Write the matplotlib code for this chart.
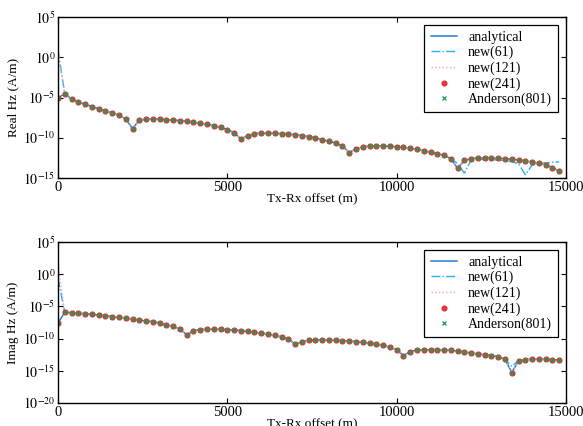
import numpy as np
import matplotlib
matplotlib.use("Agg")
import matplotlib.pyplot as plt
from matplotlib.ticker import FixedLocator, FuncFormatter

plt.rc('font', family='Liberation Serif', size=9.5)
plt.rc('xtick', labelsize=10.5)
plt.rc('ytick', labelsize=10)
plt.rc('legend', fontsize=10)
plt.rc('mathtext', fontset='stix')

# Tx-Rx offsets (m), one sample every 200 m
offsets = np.arange(0, 15000, 200)

# Real Hz, log10 of |Hz|
real_analytical = [
    -5.02, -4.56, -5.18, -5.56, -5.85, -6.14, -6.38, -6.67, -6.92, -7.21,
    -7.67, -8.87, -7.83, -7.67, -7.67, -7.67, -7.75, -7.79, -7.88, -7.96,
    -8.08, -8.21, -8.33, -8.50, -8.70, -9.00, -9.37, -10.15, -9.74, -9.49,
    -9.45, -9.45, -9.45, -9.49, -9.57, -9.61, -9.74, -9.86, -10.03, -10.24,
    -10.44, -10.65, -11.02, -11.85, -11.35, -11.15, -11.02, -10.98, -11.02, -11.06,
    -11.12, -11.19, -11.31, -11.44, -11.60, -11.81, -11.97, -12.18, -12.60, -13.80,
    -12.80, -12.60, -12.51, -12.51, -12.51, -12.55, -12.60, -12.68, -12.76, -12.88,
    -13.01, -13.17, -13.34, -13.71, -14.13,
]
real_new61 = [
    0.90, -4.56, -5.18, -5.56, -5.85, -6.14, -6.38, -6.67, -6.92, -7.21,
    -7.67, -8.87, -7.83, -7.67, -7.67, -7.67, -7.75, -7.79, -7.88, -7.96,
    -8.08, -8.21, -8.33, -8.50, -8.70, -9.00, -9.37, -10.15, -9.74, -9.49,
    -9.45, -9.45, -9.45, -9.49, -9.57, -9.61, -9.74, -9.86, -10.03, -10.24,
    -10.44, -10.65, -11.02, -11.85, -11.35, -11.15, -11.02, -10.98, -11.02, -11.06,
    -11.12, -11.19, -11.31, -11.44, -11.60, -11.81, -11.97, -12.18, -12.60, -13.20,
    -14.40, -12.75, -12.70, -12.70, -12.72, -12.78, -12.85, -12.98, -13.25, -14.60,
    -13.40, -13.20, -13.10, -13.05, -13.00,
]
real_new121 = [0.50] + real_analytical[1:]
real_new241 = real_analytical
real_anderson = real_analytical

# Imag Hz, log10 of |Hz|
imag_analytical = [
    -7.58, -5.92, -5.97, -6.08, -6.13, -6.23, -6.34, -6.44, -6.59, -6.70,
    -6.80, -6.96, -7.11, -7.27, -7.37, -7.58, -7.84, -8.10, -8.51, -9.39,
    -8.77, -8.61, -8.56, -8.56, -8.56, -8.61, -8.66, -8.77, -8.87, -9.03,
    -9.13, -9.29, -9.49, -9.75, -10.06, -10.89, -10.48, -10.27, -10.22, -10.17,
    -10.22, -10.27, -10.32, -10.37, -10.48, -10.58, -10.68, -10.84, -11.05, -11.36,
    -11.70, -12.65, -12.03, -11.77, -11.72, -11.72, -11.72, -11.77, -11.82, -11.93,
    -12.08, -12.24, -12.39, -12.50, -12.65, -12.81, -13.22, -15.29, -13.43, -13.27,
    -13.22, -13.22, -13.22, -13.27, -13.32,
]
imag_new61 = [-0.64] + imag_analytical[1:67] + [-14.30] + imag_analytical[68:]
imag_new121 = [1.60] + imag_analytical[1:]
imag_new241 = imag_analytical
imag_anderson = imag_analytical

xticks = [0, 5000, 10000, 15000]
real_yticks = [5, 0, -5, -10, -15]
imag_yticks = [5, 0, -5, -10, -15, -20]

c_ana = '#2b7bd0'
c_61 = '#22b2e8'
c_121 = '#f4a6c6'
c_241 = '#e8313f'
c_and = '#1f9e4a'


def draw_panel(ax, ana, n61, n121, n241, anderson, yticks, ylabel):
    ax.plot(offsets, 10.0 ** np.array(ana), color=c_ana, lw=1.1, label='analytical')
    ax.plot(offsets, 10.0 ** np.array(n61), color=c_61, lw=1.0, ls='-.', label='new(61)')
    ax.plot(offsets, 10.0 ** np.array(n121), color=c_121, lw=1.0, ls=':', label='new(121)')
    ax.plot(offsets, 10.0 ** np.array(n241), ls='none', marker='o', ms=3.4,
            color=c_241, mec=c_241, label='new(241)')
    ax.plot(offsets, 10.0 ** np.array(anderson), ls='none', marker='x', ms=3.0,
            mew=0.9, color=c_and, label='Anderson(801)')

    ax.set_yscale('log')
    ax.set_xlim(0, 15000)
    ax.set_ylim(10.0 ** min(yticks), 10.0 ** max(yticks))
    ax.xaxis.set_major_locator(FixedLocator(xticks))
    ax.yaxis.set_major_locator(FixedLocator([10.0 ** t for t in yticks]))
    ax.yaxis.set_minor_locator(FixedLocator([]))
    ax.yaxis.set_major_formatter(FuncFormatter(lambda v, p: r'$10^{%d}$' % round(np.log10(v))))
    ax.tick_params(direction='in', length=3.5, width=0.8, top=True, right=True, pad=2)
    for s in ax.spines.values():
        s.set_linewidth(1.0)

    ax.set_xlabel('Tx-Rx offset (m)', labelpad=0)
    ax.set_ylabel(ylabel, labelpad=3)
    leg = ax.legend(loc='upper right', fancybox=False, framealpha=1, edgecolor='black',
                    handlelength=1.9, handletextpad=0.8, labelspacing=0.15,
                    borderpad=0.45, borderaxespad=0.55)
    leg.get_frame().set_linewidth(0.9)


fig = plt.figure(figsize=(5.83, 4.26), dpi=100)
ax1 = fig.add_axes([58 / 583, 1 - 178 / 426, 508 / 583, 161 / 426])
ax2 = fig.add_axes([58 / 583, 1 - 403 / 426, 508 / 583, 161 / 426])

draw_panel(ax1, real_analytical, real_new61, real_new121, real_new241, real_anderson,
           real_yticks, 'Real Hz (A/m)')
draw_panel(ax2, imag_analytical, imag_new61, imag_new121, imag_new241, imag_anderson,
           imag_yticks, 'Imag Hz (A/m)')

plt.savefig('out.png', dpi=100)
